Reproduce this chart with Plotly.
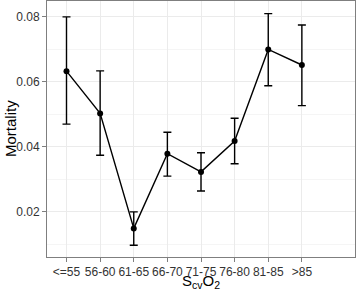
import plotly.graph_objects as go

categories = ["<=55", "56-60", "61-65", "66-70", "71-75", "76-80", "81-85", ">85"]
mortality = [0.0633, 0.0503, 0.0149, 0.0379, 0.0323, 0.0418, 0.0700, 0.0652]
upper = [0.0800, 0.0634, 0.0200, 0.0445, 0.0382, 0.0488, 0.0810, 0.0775]
lower = [0.0470, 0.0374, 0.0097, 0.0310, 0.0264, 0.0348, 0.0588, 0.0527]

err_plus = [u - m for u, m in zip(upper, mortality)]
err_minus = [m - l for m, l in zip(mortality, lower)]
xs = list(range(len(categories)))

fig = go.Figure()
fig.add_trace(go.Scatter(
    x=xs, y=mortality, mode="lines+markers",
    line=dict(color="black", width=1.4),
    marker=dict(color="black", size=6),
    error_y=dict(type="data", symmetric=False, array=err_plus, arrayminus=err_minus,
                 color="black", thickness=1.4, width=4),
    showlegend=False,
))

L, R, T, B = 47, 3, 1, 36
W, H = 358, 293
plot_w = W - L - R
plot_h = H - T - B

grid = "#ebebeb"
fig.update_layout(
    width=W, height=H,
    margin=dict(l=L, r=R, t=T, b=B),
    paper_bgcolor="white", plot_bgcolor="white",
    font=dict(family="Liberation Sans, Arial, sans-serif", color="#333333"),
    xaxis=dict(
        tickmode="array", tickvals=xs, ticktext=categories,
        range=[-0.58, 8.58], automargin=False,
        showgrid=True, gridcolor=grid, gridwidth=1,
        ticks="outside", ticklen=4, tickcolor="#7f7f7f", tickwidth=1,
        tickfont=dict(size=12, color="#333333"),
        showline=True, linecolor="#7f7f7f", linewidth=1, mirror=True,
        zeroline=False,
    ),
    yaxis=dict(
        range=[0.0061, 0.0849], automargin=False,
        tickmode="array", tickvals=[0.02, 0.04, 0.06, 0.08], ticktext=["0.02", "0.04", "0.06", "0.08"],
        showgrid=True, gridcolor=grid, gridwidth=1,
        minor=dict(tickvals=[0.01, 0.03, 0.05, 0.07], showgrid=True, gridcolor="#f5f5f5", gridwidth=0.5),
        ticks="outside", ticklen=4, tickcolor="#7f7f7f", tickwidth=1,
        tickfont=dict(size=12, color="#333333"),
        showline=True, linecolor="#7f7f7f", linewidth=1, mirror=True,
        zeroline=False,
    ),
    annotations=[
        dict(text="S<sub>cv</sub>O<sub>2</sub>", x=0.5, xref="paper",
             y=-(293 - (H - B)) / plot_h, yref="paper",
             xanchor="center", yanchor="bottom",
             showarrow=False, font=dict(size=15, color="black")),
        dict(text="Mortality", textangle=-90, x=(10 - L) / plot_w, xref="paper", y=0.5, yref="paper",
             xanchor="center", yanchor="middle",
             showarrow=False, font=dict(size=15, color="black")),
    ],
)

fig.write_html("out.html", config={"displayModeBar": False},
               post_script="document.body.style.margin='0';")
